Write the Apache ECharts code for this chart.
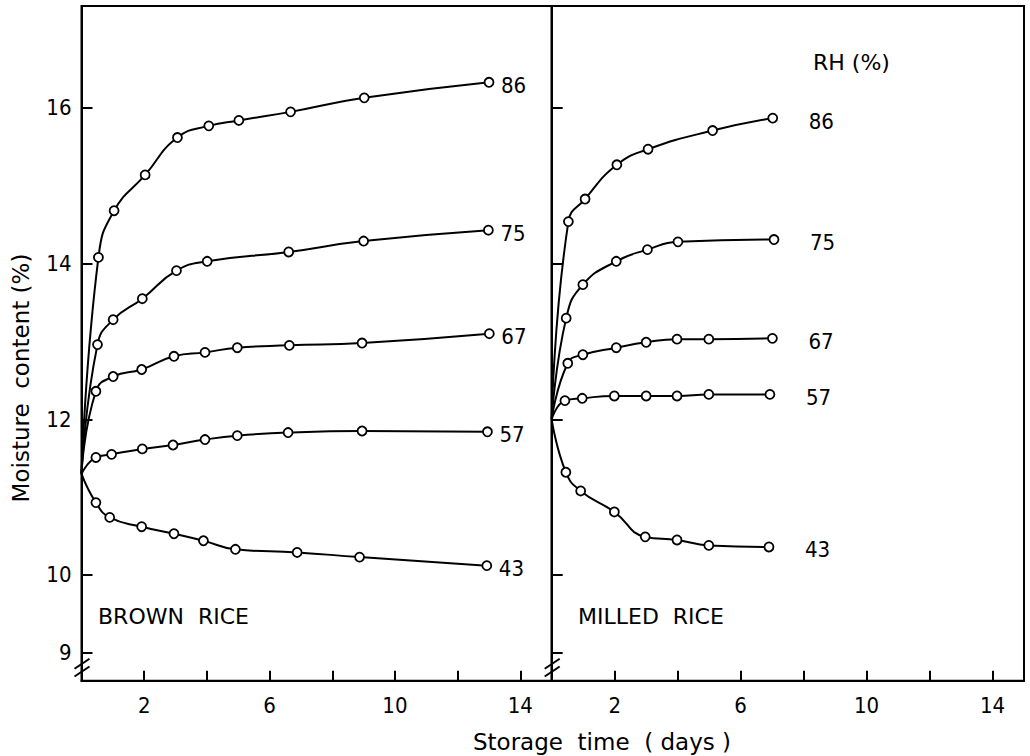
<!DOCTYPE html>
<html>
<head>
<meta charset="utf-8">
<script src="https://cdn.jsdelivr.net/npm/echarts@6/dist/echarts.min.js"></script>
<style>
html,body{margin:0;padding:0;background:#fff;}
#chart{width:1030px;height:756px;}
</style>
</head>
<body>
<div id="chart"></div>
<script>
// ---- Data ----
var rhLevels = ['86', '75', '67', '57', '43'];

// Brown rice (left panel): storage days and moisture content (%)
var brownDays86 = [0, 0.54, 1.04, 2.03, 3.06, 4.06, 5.02, 6.67, 9.02, 13.0];
var brownMC86   = [11.3, 14.08, 14.68, 15.14, 15.62, 15.77, 15.84, 15.95, 16.13, 16.33];
var brownDays75 = [0, 0.51, 1.01, 1.94, 3.03, 4.01, 6.61, 9.0, 12.98];
var brownMC75   = [11.3, 12.96, 13.28, 13.55, 13.91, 14.03, 14.15, 14.29, 14.43];
var brownDays67 = [0, 0.46, 1.01, 1.92, 2.95, 3.94, 4.97, 6.63, 8.95, 13.01];
var brownMC67   = [11.3, 12.36, 12.55, 12.64, 12.81, 12.86, 12.92, 12.95, 12.98, 13.1];
var brownDays57 = [0, 0.46, 0.96, 1.94, 2.92, 3.94, 4.97, 6.59, 8.95, 12.95];
var brownMC57   = [11.3, 11.51, 11.55, 11.62, 11.67, 11.74, 11.79, 11.83, 11.85, 11.84];
var brownDays43 = [0, 0.46, 0.9, 1.92, 2.95, 3.89, 4.91, 6.88, 8.87, 12.93];
var brownMC43   = [11.3, 10.93, 10.74, 10.62, 10.53, 10.44, 10.33, 10.29, 10.23, 10.12];

// Milled rice (right panel)
var milledDays86 = [0, 0.53, 1.06, 2.07, 3.06, 5.11, 7.02];
var milledMC86   = [12.0, 14.54, 14.83, 15.27, 15.47, 15.71, 15.87];
var milledDays75 = [0, 0.46, 0.99, 2.05, 3.04, 4.01, 7.06];
var milledMC75   = [12.0, 13.30, 13.73, 14.03, 14.18, 14.28, 14.31];
var milledDays67 = [0, 0.51, 0.99, 2.05, 3.0, 3.98, 4.99, 7.01];
var milledMC67   = [12.0, 12.72, 12.83, 12.92, 12.99, 13.03, 13.03, 13.04];
var milledDays57 = [0, 0.42, 0.97, 1.99, 3.0, 3.98, 4.99, 6.93];
var milledMC57   = [12.0, 12.24, 12.27, 12.30, 12.30, 12.30, 12.32, 12.32];
var milledDays43 = [0, 0.45, 0.92, 1.99, 2.97, 3.98, 4.99, 6.9];
var milledMC43   = [12.0, 11.32, 11.08, 10.81, 10.49, 10.45, 10.38, 10.36];

// Axis ticks / labels
var xTickValues  = [2, 4, 6, 8, 10, 12, 14];
var xLabelValues = [2, 6, 10, 14];
var yTickValues  = [9, 10, 12, 14, 16];
var yMin = 8.642, yMax = 17.31;
var xMin = 0, xMax = 15;

var panelNames = ['BROWN  RICE', 'MILLED  RICE'];
var xTitle = 'Storage  time  ( days )';
var yTitle = 'Moisture  content (%)';
var legendTitle = 'RH (%)';

// ---- Build chart ----
var NUMFONT = "'DejaVu Sans Condensed', 'DejaVu Sans', sans-serif";
var FONT = "'DejaVu Sans', sans-serif";
var chart = echarts.init(document.getElementById('chart'), null, {renderer: 'svg'});

function pairs(xs, ys) {
  return xs.map(function (x, i) {
    var item = {value: [x, ys[i]]};
    if (i === 0) item.symbol = 'none';
    return item;
  });
}

var brownSets = [
  [brownDays86, brownMC86], [brownDays75, brownMC75], [brownDays67, brownMC67],
  [brownDays57, brownMC57], [brownDays43, brownMC43]
];
var milledSets = [
  [milledDays86, milledMC86], [milledDays75, milledMC75], [milledDays67, milledMC67],
  [milledDays57, milledMC57], [milledDays43, milledMC43]
];

function makeSeries(sets, gridIdx, labelDist) {
  return sets.map(function (s, i) {
    return {
      type: 'line',
      name: rhLevels[i],
      xAxisIndex: gridIdx,
      yAxisIndex: gridIdx,
      data: pairs(s[0], s[1]),
      smooth: 0.5,
      symbol: 'circle',
      symbolSize: 9,
      showSymbol: true,
      showAllSymbol: true,
      lineStyle: {color: '#000', width: 2},
      itemStyle: {color: '#fff', borderColor: '#000', borderWidth: 1.8},
      emphasis: {disabled: true},
      endLabel: {
        show: true,
        formatter: '{a}',
        color: '#000',
        fontSize: 22,
        fontFamily: NUMFONT,
        distance: labelDist,
        offset: [0, 3]
      },
      z: 3
    };
  });
}

function xAxisDef(gi) {
  return {
    type: 'value', gridIndex: gi, min: xMin, max: xMax, interval: 2,
    axisLine: {show: true, lineStyle: {color: '#000', width: 2}},
    axisTick: {show: true, inside: true, length: 10, customValues: xTickValues,
               lineStyle: {color: '#000', width: 2}},
    axisLabel: {show: true, customValues: xLabelValues, margin: 14, color: '#000',
                fontSize: 22, fontFamily: NUMFONT,
                formatter: function (v) { return xLabelValues.indexOf(v) >= 0 ? String(v) : ''; }},
    splitLine: {show: false}
  };
}
function yAxisDef(gi, showLabel) {
  return {
    type: 'value', gridIndex: gi, min: yMin, max: yMax,
    axisLine: {show: true, lineStyle: {color: '#000', width: 2}},
    axisTick: {show: true, inside: true, length: 11, customValues: yTickValues,
               lineStyle: {color: '#000', width: 2}},
    axisLabel: {show: showLabel, customValues: yTickValues, margin: 10, color: '#000',
                fontSize: 22, fontFamily: NUMFONT},
    splitLine: {show: false}
  };
}

var option = {
  animation: false,
  backgroundColor: '#fff',
  textStyle: {fontFamily: FONT},
  grid: [
    {left: 81.5, top: 6, width: 470.2, height: 674.7, show: true, borderColor: '#000', borderWidth: 2, containLabel: false},
    {left: 551.7, top: 6, width: 472.3, height: 674.7, show: true, borderColor: '#000', borderWidth: 2, containLabel: false}
  ],
  xAxis: [xAxisDef(0), xAxisDef(1)],
  yAxis: [yAxisDef(0, true), yAxisDef(1, false)],
  series: makeSeries(brownSets, 0, 12).concat(makeSeries(milledSets, 1, 36))
};
chart.setOption(option);

// Text and axis-break decorations
var graphics = [
  {type: 'text', left: 98, top: 605, style: {text: panelNames[0], fill: '#000', fontSize: 22, fontFamily: FONT}},
  {type: 'text', left: 578, top: 605, style: {text: panelNames[1], fill: '#000', fontSize: 22, fontFamily: FONT}},
  {type: 'text', left: 813, top: 51, style: {text: legendTitle, fill: '#000', fontSize: 22, fontFamily: FONT}},
  {type: 'text', x: 602, y: 742, style: {text: xTitle, fill: '#000', fontSize: 23, fontFamily: FONT, align: 'center', verticalAlign: 'middle'}},
  {type: 'text', x: 21, y: 378, rotation: Math.PI / 2, style: {text: yTitle, fill: '#000', fontSize: 23, fontFamily: FONT, align: 'center', verticalAlign: 'middle'}}
];
[0, 1].forEach(function (gi) {
  [8.86, 8.76].forEach(function (v) {
    var p = chart.convertToPixel({xAxisIndex: gi, yAxisIndex: gi}, [0, v]);
    graphics.push({type: 'line', shape: {x1: p[0] - 7, y1: p[1] + 5, x2: p[0] + 8, y2: p[1] - 5},
                   style: {stroke: '#000', lineWidth: 2}, z: 10});
  });
});
chart.setOption({graphic: graphics});
</script>
</body>
</html>
